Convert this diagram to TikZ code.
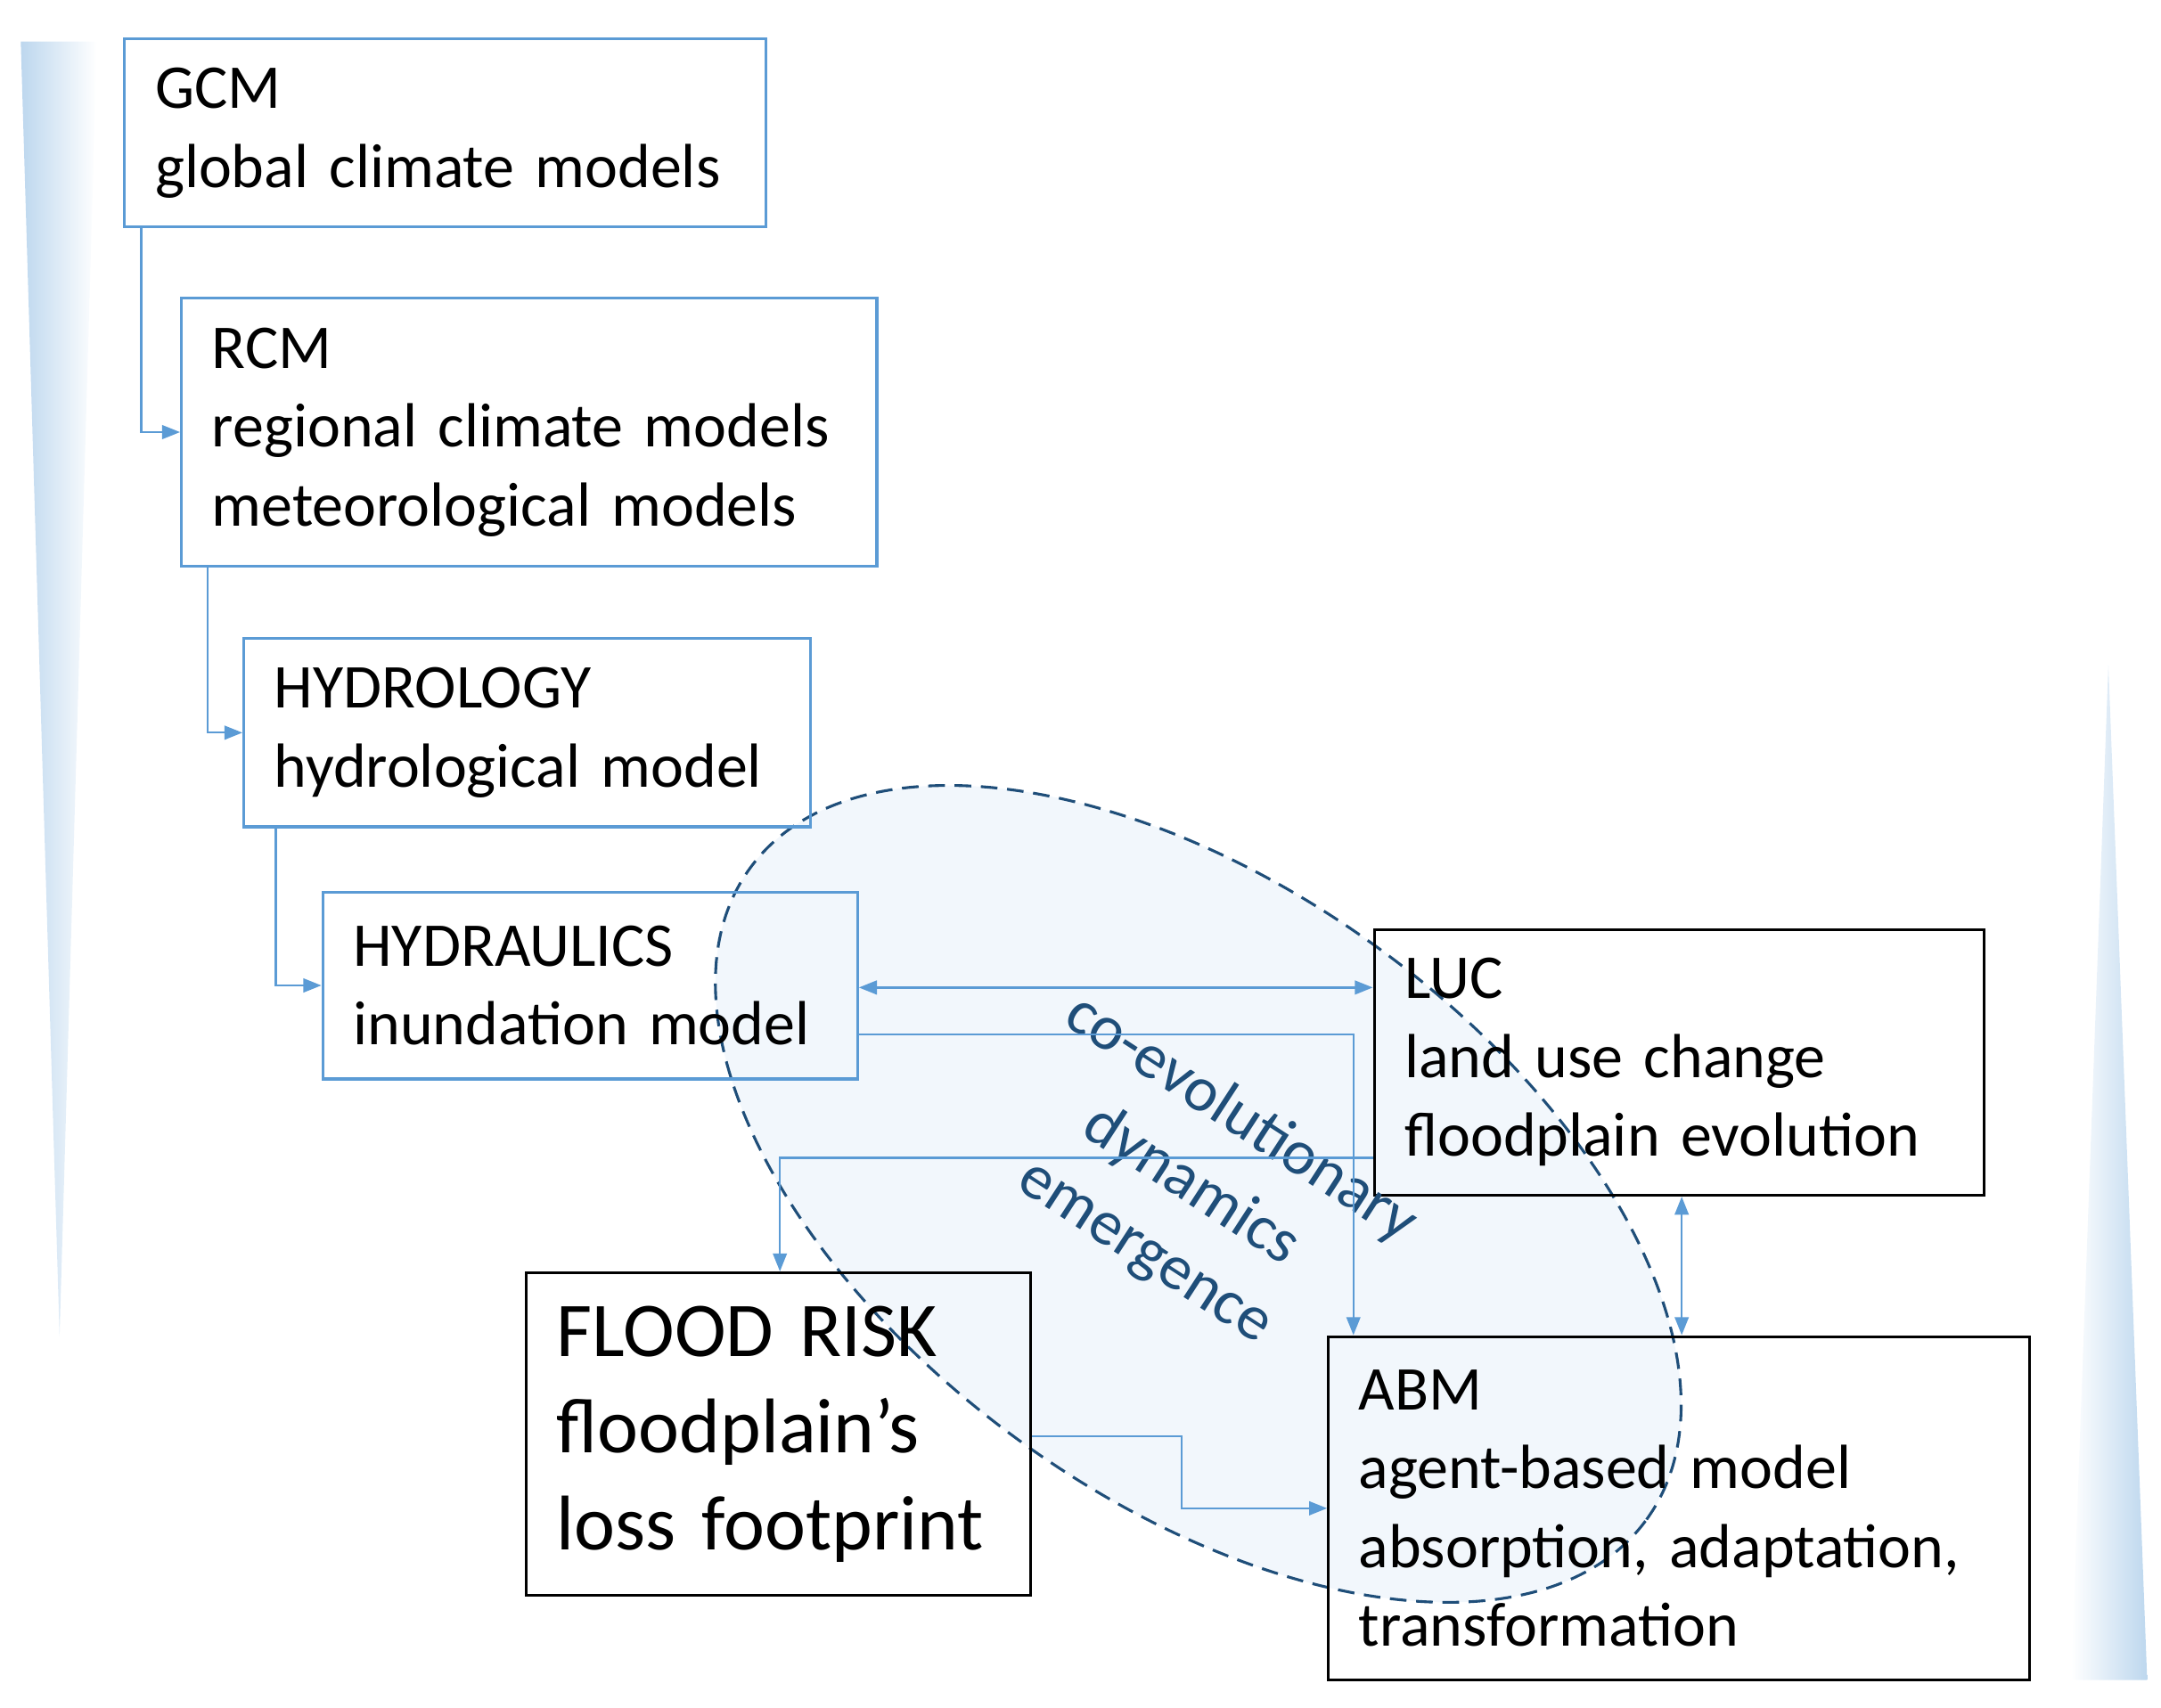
\documentclass[tikz,border=0pt]{standalone}
\usepackage{fontspec}
\setmainfont{Carlito}
\usetikzlibrary{arrows.meta,shapes.geometric}
\definecolor{bl}{RGB}{91,155,213}
\definecolor{dk}{RGB}{31,78,121}
\definecolor{lb}{RGB}{189,215,238}
\begin{document}
\begin{tikzpicture}[x=1pt,y=-1pt,
 box/.style={draw, line width=2pt, rectangle, inner sep=0pt, align=left, font=\fontsize{45}{57}\selectfont},
 bbox/.style={box, draw=bl},
 kbox/.style={box, draw=black},
 con/.style={draw=bl, line width=1.5pt, -{Triangle[length=13pt,width=10pt]}},
 con2/.style={draw=bl, line width=1.5pt, {Triangle[length=13pt,width=10pt]}-{Triangle[length=13pt,width=10pt]}},
 rot/.style={rotate=-33, text=dk, font=\fontsize{46}{50}\selectfont}]
\useasboundingbox (0,0) rectangle (1560,1233);
\shade[left color=lb, right color=white] (15,30) -- (70,30) -- (43,965) -- cycle;
\shade[left color=white, right color=lb] (1495,1213) -- (1550,1213) -- (1522,480) -- cycle;
\node[ellipse, draw=dk, dash pattern=on 12pt off 7pt, line width=2pt, fill=bl!8, minimum width=800, minimum height=440, rotate=-36] (ell) at (865,862) {};
\node[bbox, minimum width=463, minimum height=136, text width=419] (gcm) at (321.5,96) {GCM\\global climate models};
\node[bbox, minimum width=502, minimum height=194, text width=458] (rcm) at (382,312) {RCM\\regional climate models\\meteorological models};
\node[bbox, minimum width=409, minimum height=136, text width=365] (hyd) at (380.5,529) {HYDROLOGY\\hydrological model};
\node[bbox, minimum width=386, minimum height=135, text width=342] (hyr) at (426,711.5) {HYDRAULICS\\inundation model};
\node[kbox, minimum width=440, minimum height=192, text width=396] (luc) at (1212,767) {LUC\\land use change\\floodplain evolution};
\node[kbox, minimum width=506, minimum height=248, text width=462] (abm) at (1212,1089) {ABM\\agent-based model\\absorption, adaptation,\\transformation};
\node[kbox, minimum width=364, minimum height=233, text width=320, font=\fontsize{56}{70}\selectfont] (fr) at (562,1035.5) {FLOOD RISK\\floodplain’s\\loss footprint};
\node[rot] (t1) at (896,808) {co-evolutionary};
\node[rot] (t2) at (860,856) {dynamics};
\node[rot] (t3) at (824,908) {emergence};
\draw[con] ([xshift=13pt]gcm.south west) |- (rcm.west);
\draw[con] ([xshift=20pt]rcm.south west) |- (hyd.west);
\draw[con] ([xshift=24pt]hyd.south west) |- (hyr.west);
\draw[con2] (hyr.east |- 0,713) -- (luc.west |- 0,713);
\draw[con] (hyr.east |- 0,747) -| ([xshift=19pt]abm.north west);
\draw[con] (luc.west |- 0,836) -| ([xshift=-182pt]fr.north east);
\draw[con2] (luc.south -| 1214,0) -- (abm.north -| 1214,0);
\coordinate (m1) at (853,1037);
\draw[con] (fr.east |- m1) -- (m1) |- (abm.west |- 0,1089);
\end{tikzpicture}
\end{document}
